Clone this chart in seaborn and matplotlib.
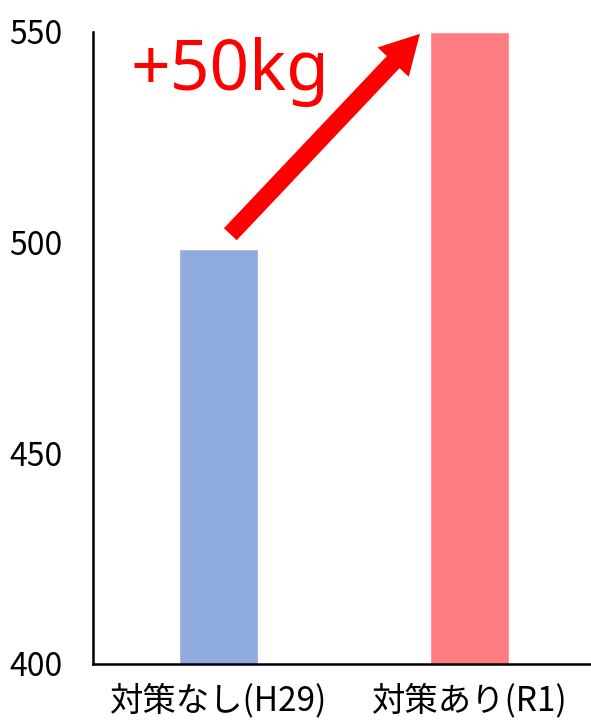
import matplotlib
matplotlib.use("Agg")
import matplotlib.pyplot as plt
import seaborn as sns
import pandas as pd

categories = ["対策なし(H29)", "対策あり(R1)"]
values = [498.5, 550]
colors = ["#8FAADC", "#FF7C80"]
y_ticks = [400, 450, 500, 550]
gain_label = "+50kg"

sns.set_theme(style="white")
plt.rcParams["font.family"] = ["Noto Sans CJK JP", "DejaVu Sans"]

df = pd.DataFrame({"category": categories, "value": values})

fig = plt.figure(figsize=(5.91, 7.24), dpi=100)
ax = fig.add_axes([0.157, 0.083, 0.85, 0.873])

sns.barplot(data=df, x="category", y="value", hue="category",
            palette=colors, width=0.316, legend=False, ax=ax, saturation=1)

ax.set_ylim(400, 550)
ax.set_xlim(-0.5, 1.5)
ax.set_yticks(y_ticks)
ax.set_xlabel("")
ax.set_ylabel("")
ax.tick_params(axis="y", length=0, pad=22, labelsize=23, labelcolor="black")
ax.tick_params(axis="x", length=0, pad=14, labelsize=24, labelcolor="black")

for side in ["top", "right"]:
    ax.spines[side].set_visible(False)
for side in ["left", "bottom"]:
    ax.spines[side].set_color("black")
    ax.spines[side].set_linewidth(1.8)

# growth arrow from the first bar up to the second
ax.annotate("", xy=(0.81, values[1]), xytext=(0.04, values[0] + 3),
            arrowprops=dict(arrowstyle="simple,head_width=2.2,head_length=2.0,tail_width=0.9",
                            color="#FF0000", mutation_scale=14, lw=0),
            annotation_clip=False)
ax.text(-0.35, 540.5, gain_label, color="#FF0000", fontsize=50,
        ha="left", va="center", family=["Noto Sans", "DejaVu Sans"])

fig.savefig("out.png", dpi=100)
